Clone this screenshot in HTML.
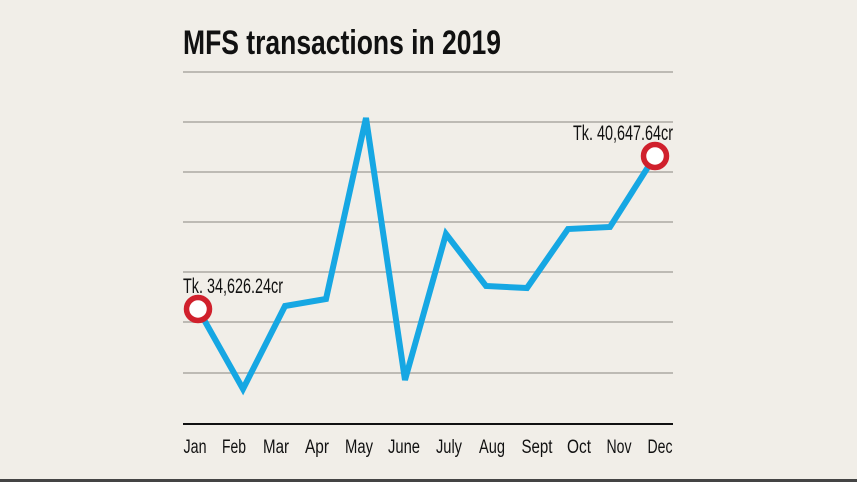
<!DOCTYPE html>
<html><head><style>
html,body{margin:0;padding:0;background:#f1eee8;}
svg{display:block;}
text{font-family:"Liberation Sans",sans-serif;fill:#111;}
</style></head><body>
<svg width="857" height="482" viewBox="0 0 857 482">
<rect width="857" height="482" fill="#f1eee8"/>
<rect x="0" y="479" width="857" height="3" fill="#444"/>
<text x="183" y="54" font-size="34" font-weight="bold" textLength="318" lengthAdjust="spacingAndGlyphs">MFS transactions in 2019</text>
<g stroke="#bdbab4" stroke-width="2">
<line x1="183" y1="72" x2="673" y2="72"/>
<line x1="183" y1="122" x2="673" y2="122"/>
<line x1="183" y1="172" x2="673" y2="172"/>
<line x1="183" y1="222" x2="673" y2="222"/>
<line x1="183" y1="272" x2="673" y2="272"/>
<line x1="183" y1="322" x2="673" y2="322"/>
<line x1="183" y1="373" x2="673" y2="373"/>
</g>
<line x1="183" y1="424" x2="673" y2="424" stroke="#111" stroke-width="2"/>
<polyline fill="none" stroke="#16a7e3" stroke-width="6" stroke-linejoin="miter" points="198,309 243,389 285,306 326,299 366,118 405,380 446,234 486,286 527,288 568,229 610,227 655,156"/>
<circle cx="198" cy="309" r="11.5" fill="#fff" stroke="#d0202c" stroke-width="5.5"/>
<circle cx="655" cy="156" r="11.5" fill="#fff" stroke="#d0202c" stroke-width="5.5"/>
<text x="183" y="293" font-size="21" textLength="100" lengthAdjust="spacingAndGlyphs">Tk. 34,626.24cr</text>
<text x="573" y="140" font-size="21" textLength="100" lengthAdjust="spacingAndGlyphs">Tk. 40,647.64cr</text>
<g font-size="19" text-anchor="middle">
<text x="195" y="453" textLength="23" lengthAdjust="spacingAndGlyphs">Jan</text>
<text x="234" y="453" textLength="24" lengthAdjust="spacingAndGlyphs">Feb</text>
<text x="276" y="453" textLength="26" lengthAdjust="spacingAndGlyphs">Mar</text>
<text x="317" y="453" textLength="24" lengthAdjust="spacingAndGlyphs">Apr</text>
<text x="359" y="453" textLength="28" lengthAdjust="spacingAndGlyphs">May</text>
<text x="404" y="453" textLength="32" lengthAdjust="spacingAndGlyphs">June</text>
<text x="449" y="453" textLength="26" lengthAdjust="spacingAndGlyphs">July</text>
<text x="492" y="453" textLength="26" lengthAdjust="spacingAndGlyphs">Aug</text>
<text x="537" y="453" textLength="31" lengthAdjust="spacingAndGlyphs">Sept</text>
<text x="579" y="453" textLength="24" lengthAdjust="spacingAndGlyphs">Oct</text>
<text x="619" y="453" textLength="25" lengthAdjust="spacingAndGlyphs">Nov</text>
<text x="660" y="453" textLength="25" lengthAdjust="spacingAndGlyphs">Dec</text>
</g>
</svg>
</body></html>
